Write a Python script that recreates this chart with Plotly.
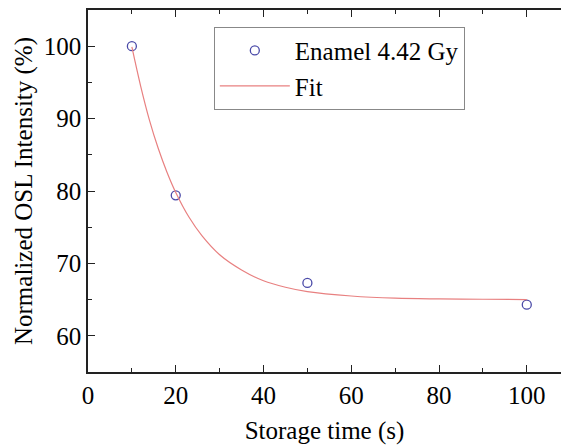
import plotly.graph_objects as go

# Measured data
storage_time = [10, 20, 50, 100]
osl_intensity = [100.0, 79.4, 67.3, 64.3]

# Fit curve
fit_time = [10, 12, 14, 16, 18, 20, 23, 26, 30, 35, 40, 45, 50, 60, 70, 80, 90, 100]
fit_intensity = [99.9, 94.5, 89.8, 85.9, 82.6, 79.8, 76.4, 73.8, 71.2, 69.1, 67.6, 66.7,
                 66.1, 65.5, 65.2, 65.1, 65.05, 65.0]

series_names = ["Enamel 4.42 Gy", "Fit"]
x_title = "Storage time (s)"
y_title = "Normalized OSL Intensity (%)"

FONT = "Liberation Serif, Times New Roman, serif"
AX = "#222222"

fig = go.Figure()
fig.add_trace(go.Scatter(
    x=storage_time, y=osl_intensity, mode="markers", name=series_names[0],
    marker=dict(symbol="circle-open", size=9, color="#4a4aa8", line=dict(width=1.3, color="#4a4aa8")),
))
fig.add_trace(go.Scatter(
    x=fit_time, y=fit_intensity, mode="lines", name=series_names[1],
    line=dict(color="#e88080", width=1.2, shape="spline"),
))

fig.update_layout(
    width=561, height=448,
    margin=dict(l=88, r=0, t=10, b=76, autoexpand=False),
    plot_bgcolor="white", paper_bgcolor="white",
    font=dict(family=FONT, size=25, color="black"),
    showlegend=True,
    legend=dict(
        x=0.266, y=0.954, xanchor="left", yanchor="top",
        bordercolor="#888888", borderwidth=1, bgcolor="white",
        font=dict(family=FONT, size=25, color="black"),
        itemwidth=70, tracegroupgap=0,
    ),
    xaxis=dict(
        range=[0, 107.8], dtick=20, tick0=0, automargin=False,
        showgrid=False, zeroline=False,
        showline=True, linecolor=AX, linewidth=1.5, mirror="ticks",
        ticks="inside", ticklen=7, tickwidth=1.3, tickcolor=AX,
        minor=dict(ticks="inside", dtick=10, ticklen=4, tickwidth=1.3, tickcolor=AX, showgrid=False),
        tickfont=dict(family=FONT, size=25, color="black"),
        title=dict(text=x_title, font=dict(family=FONT, size=25, color="black"), standoff=14),
    ),
    yaxis=dict(
        range=[55, 105], dtick=10, tick0=0, automargin=False,
        showgrid=False, zeroline=False,
        showline=True, linecolor=AX, linewidth=1.5, mirror=False,
        ticks="inside", ticklen=7, tickwidth=1.3, tickcolor=AX,
        minor=dict(ticks="inside", dtick=5, ticklen=4, tickwidth=1.3, tickcolor=AX, showgrid=False),
        tickfont=dict(family=FONT, size=25, color="black"),
        title=dict(text=y_title, font=dict(family=FONT, size=25, color="black"), standoff=4),
    ),
)

fig.write_html(
    "out.html",
    config={"displayModeBar": False},
    post_script="document.body.style.margin='0';document.body.style.overflow='hidden';",
)
